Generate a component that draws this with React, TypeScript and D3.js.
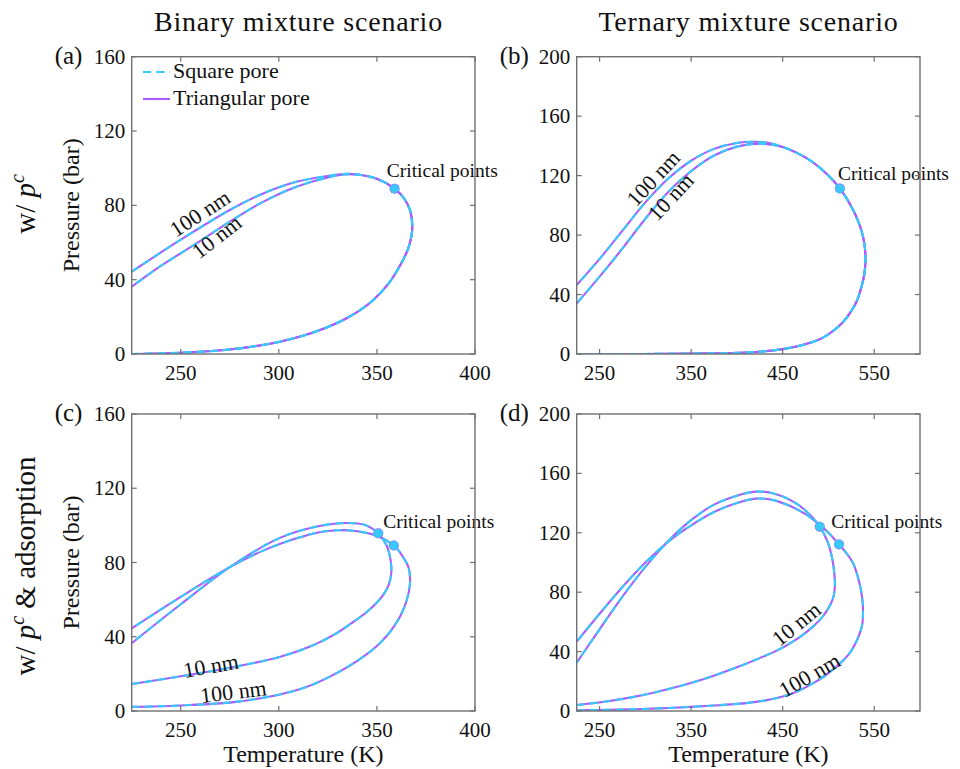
import React from "react";
import * as d3 from "d3";

type Pt = [number, number];

// ---- tick values ----
const xTicksBinary = [250, 300, 350, 400];
const xTicksTernary = [250, 350, 450, 550];
const yTicksBinary = [0, 40, 80, 120, 160];
const yTicksTernary = [0, 40, 80, 120, 160, 200];

// ---- phase envelopes: [Temperature (K), Pressure (bar)] ----
// (a) binary, w/ capillary pressure
const a100: Pt[] = [
  [225, 0], [250, 0.7], [275, 2.4], [300, 6.5], [320, 12.5], [335, 19.5], [347, 28], [356, 38],
  [362, 48], [366, 57], [368, 67], [367, 77], [364, 83.5], [359, 89], [350, 94.3], [340, 96.6],
  [333, 96.9], [325, 95.8], [309, 92.7], [292, 86.4], [275, 77.5], [250, 61.5], [225, 44.3],
];
const a10: Pt[] = [
  [225, 0], [250, 0.7], [275, 2.4], [300, 6.5], [320, 12.5], [335, 19.5], [347, 28], [356, 38],
  [362, 48], [366, 57], [368, 67], [367, 77], [364, 83.5], [359, 89], [350, 94.3], [340, 96.6],
  [333, 96.6], [325, 95], [309, 90], [292, 81.9], [275, 71.2], [258, 59.5], [240, 47.5], [225, 36.2],
];
// (b) ternary, w/ capillary pressure
const b100: Pt[] = [
  [225, 0], [300, 0.05], [374, 0.4], [410, 1.0], [430, 1.8], [450, 3.3], [465, 5], [480, 7.5],
  [494, 11], [506, 16], [516, 21.5], [524, 28], [530.5, 35], [536, 45], [539.5, 55], [540.5, 65.5],
  [539, 75], [536.5, 82], [532, 90], [526.8, 97], [520, 104.5], [512.5, 111.3], [500, 120],
  [483, 129], [465, 135.5], [450, 139.2], [440, 141.3], [420, 142.8], [400, 142], [375, 138],
  [350, 130], [325, 118], [300, 102], [275, 83], [250, 64], [225, 46.4],
];
const b10: Pt[] = [
  [225, 0], [300, 0.05], [374, 0.4], [410, 1.0], [430, 1.8], [450, 3.3], [465, 5], [480, 7.5],
  [494, 11], [506, 16], [516, 21.5], [524, 28], [530.5, 35], [536, 45], [539.5, 55], [540.5, 65.5],
  [539, 75], [536.5, 82], [532, 90], [526.8, 97], [520, 104.5], [512.5, 111.3], [500, 120],
  [483, 129], [465, 135.5], [450, 139.2], [440, 140.6], [425, 141.5], [400, 139.5], [375, 133.5],
  [350, 123], [325, 109], [300, 91], [275, 71], [250, 52], [225, 34],
];
// (c) binary, w/ capillary pressure & adsorption
const c100: Pt[] = [
  [225, 2.2], [250, 3.0], [277, 4.8], [300, 8.8], [314, 12.9], [326, 18.5], [340, 27], [351.5, 36.5],
  [359, 46], [364, 56], [366.8, 68], [366.2, 77], [363, 83.5], [358.6, 89.2], [350, 94.3],
  [340, 96.8], [330, 97.4], [320, 96.2], [309, 93], [292, 86.4], [275, 77.5], [250, 61.5], [225, 44.5],
];
const c10: Pt[] = [
  [225, 14.5], [250, 18.7], [275, 23.3], [300, 29], [315, 34.3], [328, 41], [338, 48], [345, 53.5],
  [350, 58.5], [353.5, 63], [356, 68], [357.3, 74], [357, 81], [355, 89], [350.7, 95.7],
  [344, 100.2], [334, 101.3], [320, 99.5], [300, 93], [275, 77.5], [250, 57.5], [225, 36.5],
];
// (d) ternary, w/ capillary pressure & adsorption
const d100: Pt[] = [
  [225, 0.45], [250, 0.7], [283, 1.1], [315, 1.8], [350, 2.8], [380, 3.9], [410, 5.3], [430, 7],
  [450, 9.7], [467, 13.5], [483, 18.6], [497, 24], [508.6, 29.9], [516, 34], [523, 38.8], [529, 45],
  [534, 52], [537, 58.5], [537.7, 65.8], [537.5, 72], [535.5, 81.5], [532, 90.5], [527, 99.4],
  [520, 106], [511.5, 112.2], [500, 120], [490, 125.5], [475, 132.5], [460, 137.5], [440, 142],
  [420, 143], [400, 140], [375, 134], [350, 125], [325, 114], [300, 100], [275, 83.5], [250, 65.5],
  [225, 46.7],
];
const d10: Pt[] = [
  [225, 4], [255, 6.2], [283, 9], [310, 12.5], [338, 16.8], [355, 19.8], [374, 23.6], [400, 29.4],
  [428.6, 36.6], [444, 40.8], [458, 45.6], [471, 50.8], [483, 56.8], [493, 63], [501, 70.3],
  [505.5, 77], [507, 84], [506.5, 92], [504, 103], [499, 114], [490.5, 124.1], [475, 135],
  [460, 141.5], [440, 146.5], [420, 147.7], [400, 145], [375, 139], [350, 128.5], [325, 114.5],
  [300, 97], [275, 77], [250, 55], [225, 32.5],
];

// critical points
const critA: Pt[] = [[359, 89]];
const critB: Pt[] = [[512.5, 111.3]];
const critC: Pt[] = [[350.7, 95.7], [358.6, 89.2]];
const critD: Pt[] = [[490.5, 124.1], [511.5, 112.2]];

const CYAN = "#3ac8f8";
const PURPLE = "#aa5aff";
const AXIS = "#707070";
const FONT = "'Liberation Serif', 'DejaVu Serif', serif";

type Label = { text: string; at: Pt; rot: number };
type Panel = {
  tag: string;
  left: number; top: number; w: number; h: number;
  xDomain: [number, number]; yDomain: [number, number];
  xTicks: number[]; yTicks: number[];
  curves: Pt[][];
  crit: Pt[];
  critLabel: Pt;
  labels: Label[];
  xTitle: boolean;
};

const panels: Panel[] = [
  {
    tag: "(a)", left: 131.7, top: 56.7, w: 343.3, h: 297.3,
    xDomain: [225, 400], yDomain: [0, 160], xTicks: xTicksBinary, yTicks: yTicksBinary,
    curves: [a100, a10], crit: critA, critLabel: [355, 95.4],
    labels: [
      { text: "100 nm", at: [259.8, 75.7], rot: -33 },
      { text: "10 nm", at: [268.3, 63.1], rot: -38 },
    ],
    xTitle: false,
  },
  {
    tag: "(b)", left: 576.7, top: 56.7, w: 343.3, h: 297.3,
    xDomain: [225, 600], yDomain: [0, 200], xTicks: xTicksTernary, yTicks: yTicksTernary,
    curves: [b100, b10], crit: critB, critLabel: [510.3, 117],
    labels: [
      { text: "100 nm", at: [308.5, 118.2], rot: -47 },
      { text: "10 nm", at: [327.8, 105.8], rot: -47 },
    ],
    xTitle: false,
  },
  {
    tag: "(c)", left: 131.7, top: 414, w: 343.3, h: 297,
    xDomain: [225, 400], yDomain: [0, 160], xTicks: xTicksBinary, yTicks: yTicksBinary,
    curves: [c100, c10], crit: critC, critLabel: [353.2, 98.4],
    labels: [
      { text: "10 nm", at: [265.4, 24.4], rot: -10 },
      { text: "100 nm", at: [276.8, 10.4], rot: -7 },
    ],
    xTitle: true,
  },
  {
    tag: "(d)", left: 576.7, top: 414, w: 343.3, h: 297,
    xDomain: [225, 600], yDomain: [0, 200], xTicks: xTicksTernary, yTicks: yTicksTernary,
    curves: [d100, d10], crit: critD, critLabel: [503, 123],
    labels: [
      { text: "10 nm", at: [464.9, 58.6], rot: -39 },
      { text: "100 nm", at: [479.4, 24.2], rot: -30 },
    ],
    xTitle: true,
  },
];

function PanelView({ p, idx }: { p: Panel; idx: number }) {
  const x = d3.scaleLinear().domain(p.xDomain).range([p.left, p.left + p.w]);
  const y = d3.scaleLinear().domain(p.yDomain).range([p.top + p.h, p.top]);
  const line = d3
    .line<Pt>()
    .x((d) => x(d[0]))
    .y((d) => y(d[1]))
    .curve(d3.curveCatmullRom.alpha(0.5));
  const bottom = p.top + p.h;
  const right = p.left + p.w;
  const clipId = `clip-${idx}`;
  const tick = 5;
  return (
    <g>
      <defs>
        <clipPath id={clipId}>
          <rect x={p.left} y={p.top} width={p.w} height={p.h} />
        </clipPath>
      </defs>
      <g clipPath={`url(#${clipId})`} fill="none" strokeWidth={2.1}>
        {p.curves.map((c, i) => (
          <path key={"t" + i} d={line(c) || ""} stroke={PURPLE} />
        ))}
        {p.curves.map((c, i) => (
          <path key={"s" + i} d={line(c) || ""} stroke={CYAN} strokeDasharray="8,5" />
        ))}
      </g>
      {p.crit.map((c, i) => (
        <g key={"c" + i}>
          <circle cx={x(c[0])} cy={y(c[1])} r={5} fill={PURPLE} />
          <circle cx={x(c[0])} cy={y(c[1])} r={4.4} fill={CYAN} stroke={CYAN} strokeWidth={1} strokeDasharray="2,2" />
        </g>
      ))}
      <text x={x(p.critLabel[0])} y={y(p.critLabel[1])} fontSize={19.5}>
        Critical points
      </text>
      {p.labels.map((l, i) => (
        <text
          key={"l" + i}
          transform={`translate(${x(l.at[0])},${y(l.at[1])}) rotate(${l.rot})`}
          textAnchor="middle"
          dominantBaseline="central"
          fontSize={22}
        >
          {l.text}
        </text>
      ))}
      <rect x={p.left} y={p.top} width={p.w} height={p.h} fill="none" stroke={AXIS} strokeWidth={1.4} />
      {p.xTicks.map((t) => (
        <g key={"x" + t}>
          <line x1={x(t)} x2={x(t)} y1={bottom} y2={bottom - tick} stroke={AXIS} strokeWidth={1.2} />
          <line x1={x(t)} x2={x(t)} y1={p.top} y2={p.top + tick} stroke={AXIS} strokeWidth={1.2} />
          <text x={x(t)} y={bottom + 26} textAnchor="middle" fontSize={21}>
            {t}
          </text>
        </g>
      ))}
      {p.yTicks.map((t) => (
        <g key={"y" + t}>
          <line x1={p.left} x2={p.left + tick} y1={y(t)} y2={y(t)} stroke={AXIS} strokeWidth={1.2} />
          <line x1={right} x2={right - tick} y1={y(t)} y2={y(t)} stroke={AXIS} strokeWidth={1.2} />
          <text x={p.left - 6.5} y={y(t) + 7} textAnchor="end" fontSize={21}>
            {t}
          </text>
        </g>
      ))}
      <text x={p.left - 77} y={p.top + 7} fontSize={25}>
        {p.tag}
      </text>
      {p.xTitle && (
        <text x={(p.left + right) / 2} y={bottom + 51} textAnchor="middle" fontSize={24}>
          Temperature (K)
        </text>
      )}
      {idx % 2 === 0 && (
        <text
          transform={`translate(${p.left - 53},${(p.top + bottom) / 2}) rotate(-90)`}
          textAnchor="middle"
          fontSize={24}
        >
          Pressure (bar)
        </text>
      )}
    </g>
  );
}

export default function App() {
  return (
    <svg
      width={960}
      height={769}
      style={{ position: "absolute", left: 0, top: 0, background: "#fff" }}
      fontFamily={FONT}
    >
      <style>{`text { font-family: ${FONT}; fill: #111; }`}</style>
      <rect x={0} y={0} width={960} height={769} fill="#fff" />
      <text x={298.5} y={31} textAnchor="middle" fontSize={28} letterSpacing={0.8}>
        Binary mixture scenario
      </text>
      <text x={748.5} y={31} textAnchor="middle" fontSize={28} letterSpacing={0.8}>
        Ternary mixture scenario
      </text>
      <text transform="translate(35,204) rotate(-90)" textAnchor="middle" fontSize={29}>
        w/{" "}
        <tspan fontStyle="italic">p</tspan>
        <tspan fontStyle="italic" fontSize={20} dy={-11}>c</tspan>
      </text>
      <text transform="translate(35,566) rotate(-90)" textAnchor="middle" fontSize={29}>
        w/{" "}
        <tspan fontStyle="italic">p</tspan>
        <tspan fontStyle="italic" fontSize={20} dy={-11}>c</tspan>
        <tspan dy={11}> &amp; adsorption</tspan>
      </text>
      {panels.map((p, i) => (
        <PanelView key={p.tag} p={p} idx={i} />
      ))}
      <g>
        <line x1={143} x2={170} y1={72} y2={72} stroke={CYAN} strokeWidth={2.1} strokeDasharray="8.3,5" />
        <text x={173} y={78} fontSize={22}>Square pore</text>
        <line x1={143} x2={170} y1={99} y2={99} stroke={PURPLE} strokeWidth={2.1} />
        <text x={173} y={105} fontSize={22}>Triangular pore</text>
      </g>
    </svg>
  );
}
